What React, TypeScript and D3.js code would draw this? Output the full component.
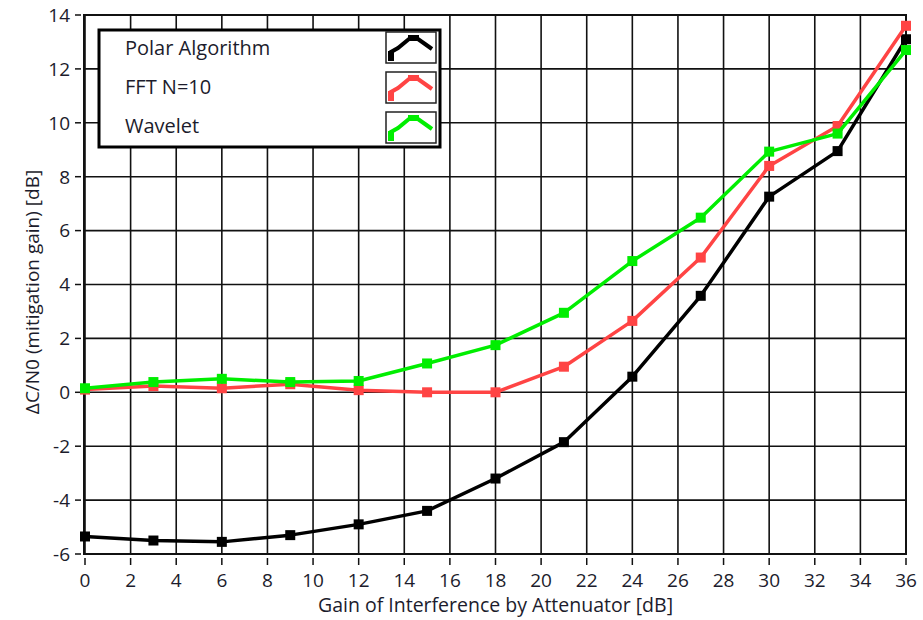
import React from "react";
import * as d3 from "d3";

// Attenuator gain settings [dB]
const gains = [0, 3, 6, 9, 12, 15, 18, 21, 24, 27, 30, 33, 36];

// Mitigation gain ΔC/N0 [dB] per algorithm
const polar = [-5.35, -5.5, -5.55, -5.3, -4.9, -4.4, -3.2, -1.85, 0.58, 3.58, 7.26, 8.95, 13.1];
const fft = [0.1, 0.23, 0.15, 0.3, 0.08, 0.0, 0.0, 0.95, 2.65, 5.0, 8.4, 9.88, 13.6];
const wavelet = [0.15, 0.38, 0.5, 0.38, 0.42, 1.07, 1.75, 2.95, 4.87, 6.48, 8.93, 9.6, 12.7];

const seriesNames = ["Polar Algorithm", "FFT N=10", "Wavelet"];
const seriesColors = ["#000000", "#ff4444", "#00ee00"];

const xTicks = d3.range(0, 37, 2);
const yTicks = d3.range(-6, 15, 2);

const FONT = "'Open Sans', 'Noto Sans', sans-serif";
const TEXT = "#1c1c2c";

export default function App() {
  const W = 923;
  const H = 620;
  const left = 85;
  const right = 906;
  const top = 15;
  const bottom = 554;

  const x = d3.scaleLinear().domain([0, 36]).range([left, right]);
  const y = d3.scaleLinear().domain([-6, 14]).range([bottom, top]);

  const line = d3
    .line<[number, number]>()
    .x((d) => x(d[0]))
    .y((d) => y(d[1]));

  const series = [polar, fft, wavelet];

  // legend swatch glyph (a small peaked stroke)
  const glyph = d3
    .line<[number, number]>()
    .x((d) => d[0])
    .y((d) => d[1]);
  const glyphPts: [number, number][] = [
    [5, 27],
    [5, 20],
    [12, 16],
    [23, 7],
    [32, 7],
    [39, 12],
    [46, 17],
  ];

  return (
    <svg
      width={W}
      height={H}
      style={{ position: "absolute", left: 0, top: 0, background: "#fff" }}
    >
      <rect x={0} y={0} width={W} height={H} fill="#fff" />

      {/* grid */}
      {xTicks.map((t) => (
        <line
          key={"gx" + t}
          x1={x(t)}
          x2={x(t)}
          y1={top}
          y2={bottom}
          stroke="#111"
          strokeWidth={1.6}
        />
      ))}
      {yTicks.map((t) => (
        <line
          key={"gy" + t}
          x1={left}
          x2={right}
          y1={y(t)}
          y2={y(t)}
          stroke="#111"
          strokeWidth={1.6}
        />
      ))}

      {/* plot frame */}
      <rect
        x={left - 1}
        y={top}
        width={right - left + 1}
        height={bottom - top}
        fill="none"
        stroke="#111"
        strokeWidth={2}
      />

      {/* y ticks and labels */}
      {yTicks.map((t) => (
        <g key={"yt" + t}>
          <line x1={75} x2={81} y1={y(t)} y2={y(t)} stroke="#111" strokeWidth={1.5} />
          <text
            x={70}
            y={y(t)}
            dy="0.36em"
            textAnchor="end"
            fontFamily={FONT}
            fontSize={19}
            fill={TEXT}
          >
            {t}
          </text>
        </g>
      ))}

      {/* x ticks and labels */}
      {xTicks.map((t) => (
        <g key={"xt" + t}>
          <line x1={x(t)} x2={x(t)} y1={558} y2={565} stroke="#111" strokeWidth={1.5} />
          <text
            x={x(t)}
            y={587}
            textAnchor="middle"
            fontFamily={FONT}
            fontSize={19}
            fill={TEXT}
          >
            {t}
          </text>
        </g>
      ))}

      {/* axis titles */}
      <text
        x={(left + right) / 2}
        y={612}
        textAnchor="middle"
        fontFamily={FONT}
        fontSize={19.5}
        fill={TEXT}
      >
        Gain of Interference by Attenuator [dB]
      </text>
      <text
        transform={`translate(39, 292) rotate(-90)`}
        textAnchor="middle"
        fontFamily={FONT}
        fontSize={19}
        fill={TEXT}
      >
        ΔC/N0 (mitigation gain) [dB]
      </text>

      {/* series lines and markers */}
      {series.map((vals, si) => {
        const pts: [number, number][] = gains.map((g, i) => [g, vals[i]]);
        return (
          <g key={"s" + si}>
            <path
              d={line(pts) || ""}
              fill="none"
              stroke={seriesColors[si]}
              strokeWidth={3.5}
              strokeLinejoin="round"
            />
            {pts.map((p, i) => (
              <rect
                key={i}
                x={x(p[0]) - 5}
                y={y(p[1]) - 5}
                width={10}
                height={10}
                fill={seriesColors[si]}
              />
            ))}
          </g>
        );
      })}

      {/* legend */}
      <g>
        <rect x={99} y={30} width={341} height={117} fill="#fff" stroke="#000" strokeWidth={3} />
        {seriesNames.map((name, i) => {
          const rowY = 32 + i * 40;
          return (
            <g key={"lg" + i}>
              <text
                x={125}
                y={55 + i * 39}
                fontFamily={FONT}
                fontSize={20}
                fill={TEXT}
              >
                {name}
              </text>
              <g transform={`translate(386, ${rowY})`}>
                <rect x={0} y={0} width={50} height={31} fill="#fff" stroke="#222" strokeWidth={1.5} />
                <path
                  d={glyph(glyphPts) || ""}
                  fill="none"
                  stroke={seriesColors[i]}
                  strokeWidth={4}
                />
                <rect x={2} y={19} width={6} height={10} fill={seriesColors[i]} />
                <rect x={22} y={3} width={11} height={6} fill={seriesColors[i]} />
              </g>
            </g>
          );
        })}
      </g>
    </svg>
  );
}
